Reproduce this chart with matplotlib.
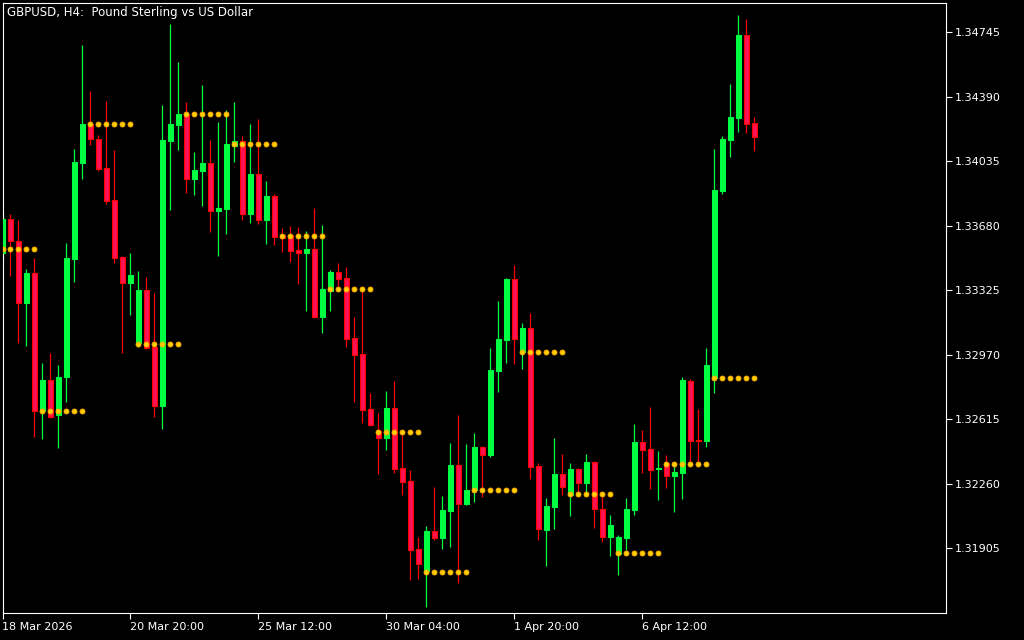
import matplotlib
matplotlib.use('Agg')
import matplotlib.pyplot as plt
import numpy as np

# GBPUSD H4 candles
opens = [1.33530, 1.33717, 1.33596, 1.33255, 1.33420, 1.32661, 1.32831, 1.32639, 1.32848, 1.33497,
         1.34025, 1.34239, 1.34157, 1.33997, 1.33821, 1.33508, 1.33365, 1.33035, 1.33326, 1.33013,
         1.32688, 1.34146, 1.34234, 1.34294, 1.33937, 1.33981, 1.34025, 1.33761, 1.33772, 1.34118,
         1.34146, 1.33744, 1.33964, 1.33711, 1.33843, 1.33629, 1.33629, 1.33546, 1.33530, 1.33552,
         1.33178, 1.33321, 1.33425, 1.33392, 1.33062, 1.32974, 1.32672, 1.32551, 1.32512, 1.32677,
         1.32347, 1.32276, 1.31902, 1.31781, 1.32001, 1.31962, 1.32111, 1.32364, 1.32149, 1.32226,
         1.32463, 1.32419, 1.32881, 1.33051, 1.33387, 1.32985, 1.33117, 1.32358, 1.32006, 1.32133,
         1.32314, 1.32199, 1.32342, 1.32265, 1.32380, 1.32122, 1.31968, 1.31874, 1.31962, 1.32116,
         1.32490, 1.32452, 1.32344, 1.32375, 1.32303, 1.32320, 1.32826, 1.32501, 1.32496, 1.32842,
         1.33871, 1.34151, 1.34272, 1.34729, 1.34245]
highs = [1.33744, 1.33744, 1.33711, 1.33442, 1.33502, 1.32925, 1.32980, 1.32914, 1.33585, 1.34102,
         1.34674, 1.34421, 1.34179, 1.34366, 1.34096, 1.33513, 1.33530, 1.33431, 1.33398, 1.33310,
         1.34344, 1.34789, 1.34580, 1.34360, 1.34085, 1.34454, 1.34151, 1.34250, 1.34316, 1.34360,
         1.34173, 1.34239, 1.34267, 1.33926, 1.33854, 1.33667, 1.33678, 1.33673, 1.33651, 1.33777,
         1.33684, 1.33436, 1.33475, 1.33453, 1.33178, 1.33326, 1.32760, 1.32650, 1.32771, 1.32826,
         1.32540, 1.32336, 1.31968, 1.32028, 1.32243, 1.32193, 1.32485, 1.32639, 1.32479, 1.32540,
         1.32468, 1.33007, 1.33266, 1.33392, 1.33464, 1.33145, 1.33200, 1.32375, 1.32182, 1.32512,
         1.32424, 1.32375, 1.32347, 1.32424, 1.32386, 1.32204, 1.32089, 1.31979, 1.32182, 1.32589,
         1.32556, 1.32683, 1.32441, 1.32419, 1.32369, 1.32848, 1.32837, 1.32672, 1.33007, 1.34102,
         1.34173, 1.34459, 1.34839, 1.34817, 1.34278]
lows = [1.33502, 1.33403, 1.33035, 1.33018, 1.32518, 1.32507, 1.32622, 1.32457, 1.32710, 1.33370,
        1.33937, 1.34124, 1.33981, 1.33799, 1.33475, 1.32980, 1.33189, 1.33013, 1.33002, 1.32628,
        1.32562, 1.33766, 1.34096, 1.33860, 1.33849, 1.33788, 1.33645, 1.33513, 1.33634, 1.34030,
        1.33711, 1.33695, 1.33689, 1.33579, 1.33574, 1.33535, 1.33480, 1.33359, 1.33211, 1.33172,
        1.33090, 1.33211, 1.33326, 1.33013, 1.32710, 1.32595, 1.32578, 1.32314, 1.32446, 1.32320,
        1.32199, 1.31731, 1.31737, 1.31583, 1.31951, 1.31902, 1.31913, 1.31715, 1.32144, 1.32160,
        1.32188, 1.32408, 1.32765, 1.32925, 1.32919, 1.32892, 1.32287, 1.31951, 1.31808, 1.32012,
        1.32199, 1.32083, 1.32210, 1.32199, 1.32017, 1.31940, 1.31863, 1.31759, 1.31896, 1.32089,
        1.32320, 1.32232, 1.32171, 1.32237, 1.32105, 1.32177, 1.32369, 1.32369, 1.32463, 1.32760,
        1.33854, 1.34058, 1.34195, 1.34190, 1.34091]
closes = [1.33717, 1.33596, 1.33255, 1.33420, 1.32661, 1.32831, 1.32628, 1.32848, 1.33502, 1.34030,
          1.34239, 1.34157, 1.33992, 1.33816, 1.33502, 1.33365, 1.33409, 1.33326, 1.33007, 1.32688,
          1.34151, 1.34239, 1.34294, 1.33937, 1.33986, 1.34025, 1.33761, 1.33777, 1.34129, 1.34146,
          1.33744, 1.33964, 1.33711, 1.33843, 1.33618, 1.33612, 1.33541, 1.33530, 1.33552, 1.33178,
          1.33332, 1.33425, 1.33387, 1.33057, 1.32969, 1.32666, 1.32584, 1.32512, 1.32677, 1.32342,
          1.32270, 1.31896, 1.31819, 1.32001, 1.31962, 1.32116, 1.32364, 1.32149, 1.32226, 1.32463,
          1.32419, 1.32886, 1.33057, 1.33387, 1.33057, 1.33117, 1.32353, 1.32012, 1.32138, 1.32314,
          1.32243, 1.32342, 1.32265, 1.32380, 1.32122, 1.31968, 1.32034, 1.31968, 1.32122, 1.32490,
          1.32446, 1.32336, 1.32347, 1.32303, 1.32325, 1.32831, 1.32496, 1.32498, 1.32914, 1.33876,
          1.34157, 1.34278, 1.34729, 1.34239, 1.34168]

# daily open levels (dotted), first bar index of each day
day_start = [0, 5, 11, 17, 23, 29, 35, 41, 47, 53, 59, 65, 71, 77, 83, 89]
day_open = [1.33552, 1.32661, 1.34239, 1.33029, 1.34294, 1.34129, 1.33623, 1.33332,
            1.32545, 1.31775, 1.32226, 1.32985, 1.32204, 1.31880, 1.32369, 1.32842]

price_ticks = [1.34745, 1.34390, 1.34035, 1.33680, 1.33325, 1.32970, 1.32615, 1.32260, 1.31905]
time_ticks = [0, 16, 32, 48, 64, 80]
time_labels = ['18 Mar 2026', '20 Mar 20:00', '25 Mar 12:00', '30 Mar 04:00', '1 Apr 20:00', '6 Apr 12:00']

BULL = '#00FF40'
BEAR_FILL = '#FF1050'
BEAR_EDGE = '#FF0000'

W, H = 1024, 640
fig = plt.figure(figsize=(W / 100, H / 100), dpi=100)
fig.patch.set_facecolor('black')
ax = fig.add_axes([2.5 / W, 27.5 / H, 943 / W, 610 / H])
ax.set_facecolor('black')

o = np.array(opens)
h = np.array(highs)
l = np.array(lows)
c = np.array(closes)
x = np.arange(len(o))
up = c >= o

# wicks
ax.vlines(x[up], l[up], h[up], color=BULL, linewidth=0.9, zorder=2)
ax.vlines(x[~up], l[~up], h[~up], color=BEAR_EDGE, linewidth=0.9, zorder=2)

# bodies
body = np.maximum(np.abs(c - o), 0.00002)
bottom = np.minimum(o, c)
ax.bar(x[up], body[up], bottom=bottom[up], width=0.56, color=BULL,
       edgecolor=BULL, linewidth=0.75, zorder=3)
ax.bar(x[~up], body[~up], bottom=bottom[~up], width=0.56, color=BEAR_FILL,
       edgecolor=BEAR_EDGE, linewidth=0.75, zorder=3)

# dotted daily open levels
ends = day_start[1:] + [len(o)]
for s, e, lvl in zip(day_start, ends, day_open):
    xs = np.arange(s, e)
    ax.plot(xs, [lvl] * len(xs), linestyle='none', marker='o', markersize=3.6,
            markerfacecolor='#FFD000', markeredgecolor='#FFA800', markeredgewidth=0.6, zorder=4)

ax.set_xlim(0.02, 117.9)
ax.set_ylim(1.3155225, 1.3490725)

for sp in ax.spines.values():
    sp.set_color('white')
    sp.set_linewidth(0.8)

ax.yaxis.tick_right()
ax.set_yticks(price_ticks)
ax.set_yticklabels(['%.5f' % p for p in price_ticks])
ax.tick_params(axis='y', colors='white', length=4, width=0.8, pad=3, labelsize=8)

ax.set_xticks(time_ticks)
ax.set_xticklabels(time_labels)
ax.tick_params(axis='x', colors='white', length=4, width=0.8, pad=3, labelsize=8)
for lbl in ax.get_xticklabels():
    lbl.set_horizontalalignment('left')

fig.text(7 / W, 1 - 12.5 / H, 'GBPUSD, H4:  Pound Sterling vs US Dollar', color='white',
         fontsize=8.5, ha='left', va='center')

fig.savefig('out.png', dpi=100, facecolor='black')
plt.close()
